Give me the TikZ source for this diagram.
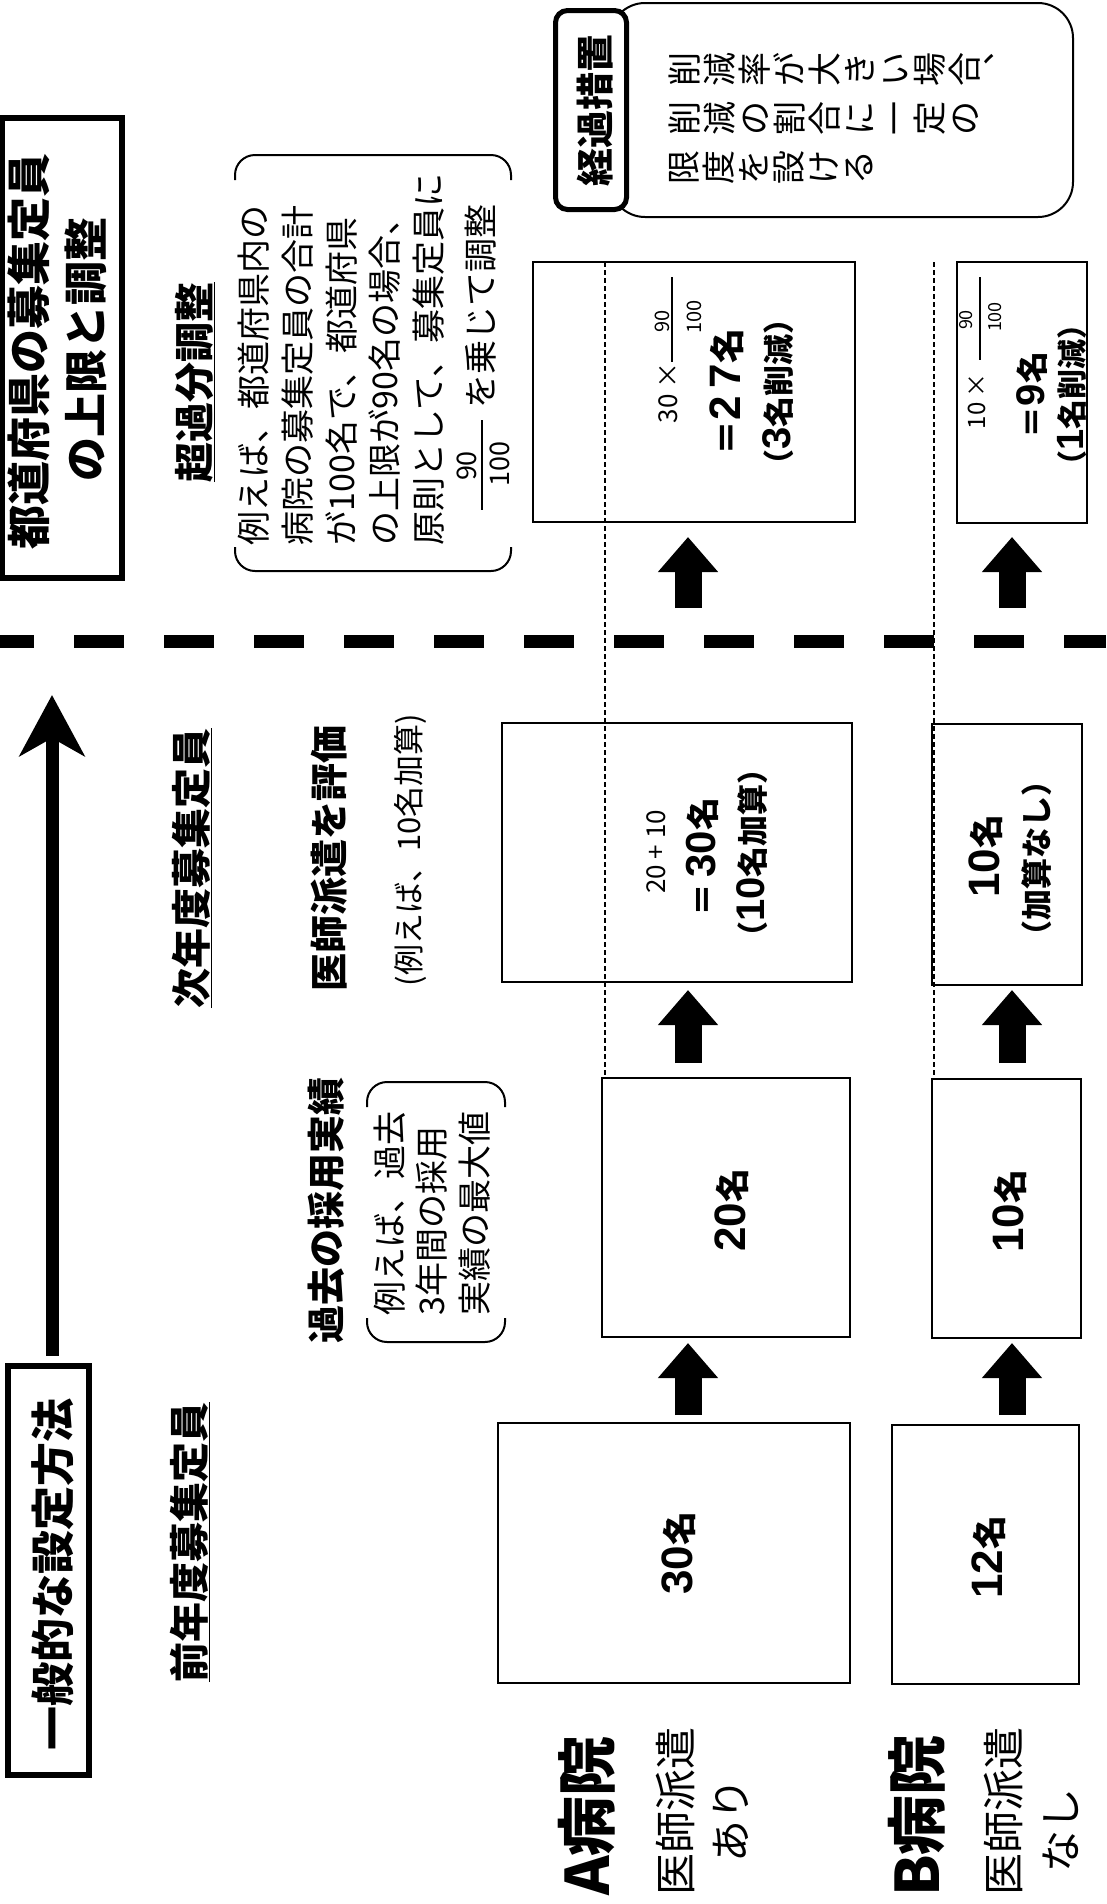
\documentclass[tikz,border=0pt]{standalone}
\usepackage{fontspec}
\setmainfont{Noto Sans CJK JP}
\newfontfamily\lat{Liberation Sans}
\usetikzlibrary{arrows.meta}
\newcommand{\fsz}[1]{\fontsize{#1}{#1}\selectfont}
\newcommand{\D}[2]{{\lat\fontsize{#1}{#1}\selectfont #2}}
\begin{document}
\begin{tikzpicture}[x=1pt,y=-1pt,
  txt/.style={rotate=90, inner sep=0pt, outer sep=0pt},
  ttl/.style={txt, font=\fsz{44}\bfseries},
  hd/.style={txt, font=\fsz{40}\bfseries},
  sub/.style={txt, font=\fsz{38}\bfseries},
  note/.style={txt, font=\fsz{34}},
  val/.style={txt, font=\fsz{34}\bfseries},
  box/.style={draw, line width=2pt, inner sep=0pt, outer sep=0pt},
  tbox/.style={draw, line width=6pt, inner sep=0pt, outer sep=0pt},
  blk/.style={line width=27pt, -{Triangle[length=35pt,width=58pt]}},
  bigar/.style={line width=13pt, -{Stealth[length=61pt,width=65pt,inset=18pt]}},
  dotl/.style={line width=1.4pt, dash pattern=on 5pt off 3pt},
  brk/.style={line width=2pt, rounded corners=20pt},
  fbar/.style={line width=1.6pt},
]
\useasboundingbox (0,0) rectangle (1106,1904);
\fill[white] (0,0) rectangle (1106,1904);

% ---- title boxes ----
\node[tbox, minimum width=120pt, minimum height=460pt] (title) at (62,348) {};
\node[ttl] (t1) at (29,351) {都道府県の募集定員};
\node[ttl] (t2) at (86,349) {の上限と調整};

\node[tbox, minimum width=81pt, minimum height=409pt] (gen) at (48,1570) {};
\node[ttl] (gent) at (53,1574) {一般的な設定方法};

\coordinate (latip) at (52,695);
\draw[bigar, shorten <=10pt] (gen.north -| latip) -- (latip);

% ---- thick dashed divider ----
\draw[line width=13pt, dash pattern=on 50pt off 40pt, dash phase=16pt] (0,641) -- (1106,641);

% ---- headings ----
\node[hd] (h1) at (190,1542) {\underline{前年度募集定員}};
\node[hd] (h2) at (192,868) {\underline{次年度募集定員}};
\node[hd] (h3) at (195,382) {\underline{超過分調整}};
\node[sub] (s1) at (326,1210) {過去の採用実績};
\node[sub] (s2) at (329,858) {医師派遣を評価};
\node[txt, font=\fsz{31}] (n2) at (410,850) {(例えば、10名加算)};

% ---- note bracket: past results ----
\draw[brk] (367,1107) -- (367,1082) -- (505,1082) -- (505,1107);
\draw[brk] (367,1318) -- (367,1342) -- (505,1342) -- (505,1318);
\node[txt, font=\fsz{34}, anchor=west] (n1a) at (390,1315) {例えば、過去};
\node[txt, font=\fsz{34}, anchor=west] (n1b) at (432,1315) {3年間の採用};
\node[txt, font=\fsz{34}, anchor=west] (n1c) at (475,1315) {実績の最大値};

% ---- note bracket: excess adjustment ----
\draw[brk] (235,180) -- (235,155) -- (511,155) -- (511,180);
\draw[brk] (235,547) -- (235,571) -- (511,571) -- (511,547);
\node[note, anchor=west] (c1) at (254,545) {例えば、都道府県内の};
\node[note, anchor=west] (c2) at (298,545) {病院の募集定員の合計};
\node[note, anchor=west] (c3) at (342,545) {が100名で、都道府県};
\node[note, anchor=west] (c4) at (385,545) {の上限が90名の場合、};
\node[note, anchor=west] (c5) at (429,545) {原則として、募集定員に};
\node[note] (c6) at (481,306) {を乗じて調整};
\node[txt, font=\fsz{27}] (c6n) at (467,466) {90};
\node[txt, font=\fsz{27}] (c6d) at (500,464) {100};
\draw[fbar] (482,420) -- (482,510);

% ---- transitional measure ----
\node[draw, line width=2pt, rounded corners=35pt, minimum width=463pt, minimum height=214pt] (kbig) at (841.5,110) {};
\node[draw, line width=5pt, rounded corners=12pt, fill=white, minimum width=71pt, minimum height=199pt] (kbox) at (591,110) {};
\node[txt, font=\fsz{38}\bfseries] (kt) at (595,110) {経過措置};
\node[txt, anchor=north, align=center, font=\fontsize{34}{35}\selectfont] (v1) at (669,69) {削\\減\\率\\が\\大\\き\\い\\場\\合\\︑};
\node[txt, anchor=north, align=center, font=\fontsize{34}{35}\selectfont] (v2) at (669,118) {削\\減\\の\\割\\合\\に\\一\\定\\の};
\node[txt, anchor=north, align=center, font=\fontsize{34}{35}\selectfont] (v3) at (669,167) {限\\度\\を\\設\\け\\る};

% ---- A hospital boxes ----
\node[box, minimum width=352pt, minimum height=260pt] (A1) at (674,1553) {};
\node[box, minimum width=248pt, minimum height=259pt] (A2) at (726,1207.5) {};
\node[box, minimum width=350pt, minimum height=259pt] (A3) at (677,852.5) {};
\node[box, minimum width=322pt, minimum height=260pt] (A4) at (694,392) {};
% ---- B hospital boxes ----
\node[box, minimum width=187pt, minimum height=259pt] (B1) at (985.5,1554.5) {};
\node[box, minimum width=149pt, minimum height=259pt] (B2) at (1006.5,1208.5) {};
\node[box, minimum width=150pt, minimum height=261pt] (B3) at (1007,854.5) {};
\node[box, minimum width=130pt, minimum height=261pt] (B4) at (1022,392.5) {};

% ---- dotted reference lines ----
\coordinate (dA) at (605,0);
\coordinate (dB) at (934,0);
\draw[dotl] (A4.north -| dA) -- (A2.north -| dA);
\draw[dotl] (B4.north -| dB) -- (B2.north -| dB);

% ---- box texts ----
\node[val] (A1t) at (679,1553) {\D{44}{30}名};
\node[val] (A2t) at (732,1210) {\D{44}{20}名};
\node[val] (B1t) at (989,1557) {\D{44}{12}名};
\node[val] (B2t) at (1010,1211) {\D{44}{10}名};

\node[txt, font=\fsz{26}] (A3a) at (656,852) {20 + 10};
\node[txt, font=\fsz{33}\bfseries] (A3b) at (702,857) {＝\,\D{42}{30}名};
\node[txt, font=\fsz{31}\bfseries] (A3c) at (752,853) {（\D{40}{10}名加算）};

\node[val] (B3a) at (986,856) {\D{44}{10}名};
\node[txt, font=\fsz{31}\bfseries] (B3b) at (1037,858) {（加算なし）};

\node[txt, font=\fsz{26}] (A4a) at (668,393) {30 ×};
\node[txt, font=\fsz{20}] (A4n) at (662,321) {90};
\node[txt, font=\fsz{20}] (A4d) at (694,317) {100};
\draw[fbar] (672,277) -- (672,362);
\node[txt, font=\fsz{35}\bfseries] (A4b) at (727,392) {＝\D{44}{2\,7}名};
\node[txt, font=\fsz{31}\bfseries] (A4c) at (778,392) {（\D{40}{3}名削減）};

\node[txt, font=\fsz{24}] (B4a) at (977,401) {10 ×};
\node[txt, font=\fsz{18}] (B4n) at (966,320) {90};
\node[txt, font=\fsz{18}] (B4d) at (995,317) {100};
\draw[fbar] (980,277) -- (980,360);
\node[txt, font=\fsz{32}\bfseries] (B4b) at (1032,395) {＝\D{40}{9}名};
\node[txt, font=\fsz{30}\bfseries] (B4c) at (1072,395) {（\D{38}{1}名削減）};

% ---- block arrows ----
\coordinate (ax) at (688,0);
\coordinate (bx) at (1012,0);
\draw[blk, shorten <=8pt, shorten >=6pt] (A1.north -| ax) -- (A2.south -| ax);
\draw[blk, shorten <=15pt, shorten >=8pt] (A2.north -| ax) -- (A3.south -| ax);
\draw[blk, shorten <=115pt, shorten >=15pt] (A3.north -| ax) -- (A4.south -| ax);
\draw[blk, shorten <=10pt, shorten >=5pt] (B1.north -| bx) -- (B2.south -| bx);
\draw[blk, shorten <=16pt, shorten >=5pt] (B2.north -| bx) -- (B3.south -| bx);
\draw[blk, shorten <=116pt, shorten >=14pt] (B3.north -| bx) -- (B4.south -| bx);

% ---- hospital labels ----
\node[txt, font=\fsz{60}\bfseries] (LA) at (587,1816) {A病院};
\node[txt, font=\fsz{42}] (LA2) at (676,1811) {医師派遣};
\node[txt, font=\fsz{42}] (LA3) at (731,1820) {あり};
\node[txt, font=\fsz{60}\bfseries] (LB) at (917,1816) {B病院};
\node[txt, font=\fsz{42}] (LB2) at (1004,1811) {医師派遣};
\node[txt, font=\fsz{42}] (LB3) at (1061,1830) {なし};
\end{tikzpicture}
\end{document}
